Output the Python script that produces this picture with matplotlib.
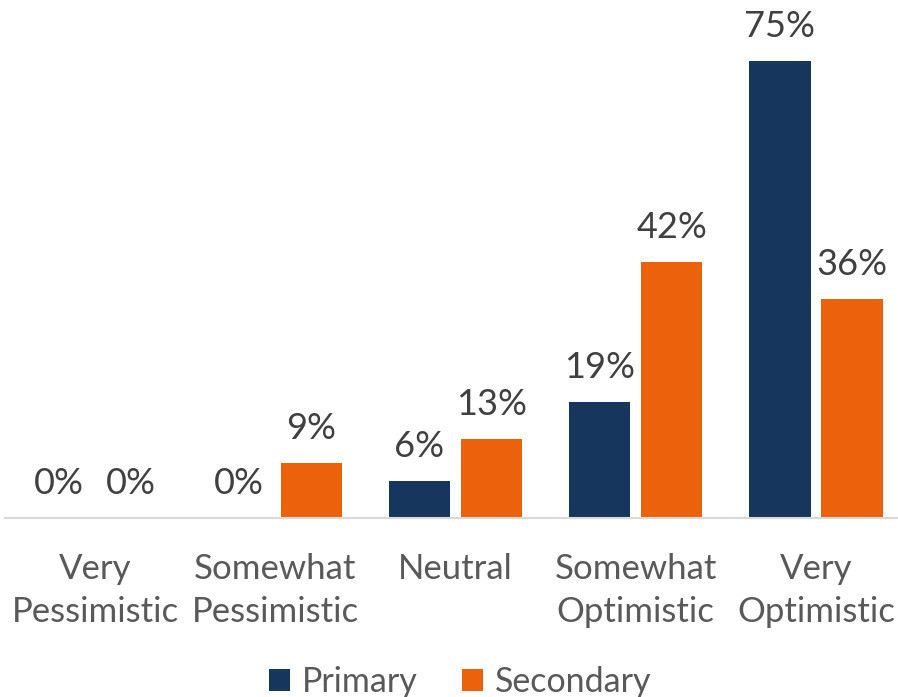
import matplotlib
matplotlib.use("Agg")
import matplotlib.pyplot as plt
import numpy as np

categories = ["Very\nPessimistic", "Somewhat\nPessimistic", "Neutral",
              "Somewhat\nOptimistic", "Very\nOptimistic"]
primary = [0, 0, 6, 19, 75]
secondary = [0, 9, 13, 42, 36]
series_names = ["Primary", "Secondary"]

navy = "#17365D"
orange = "#EC610C"
label_color = "#404040"
tick_color = "#595959"

plt.rcParams['font.family'] = ['Lato', 'DejaVu Sans']

fig = plt.figure(figsize=(8.98, 6.97), dpi=100)
ax = fig.add_axes([0.0056, 0.2568, 1.0034, 0.7432])

x = np.arange(len(categories))
w = 0.34
off = 0.2
b1 = ax.bar(x - off, primary, w, color=navy, label=series_names[0])
b2 = ax.bar(x + off, secondary, w, color=orange, label=series_names[1])

# data labels above each bar
for bars, vals in ((b1, primary), (b2, secondary)):
    for bar, v in zip(bars, vals):
        ax.annotate(f"{v}%", (bar.get_x() + bar.get_width() / 2, v),
                    xytext=(0, 13), textcoords="offset points",
                    ha="center", va="bottom", fontsize=26, color=label_color)

ax.set_xlim(-0.5, 4.5)
ax.set_ylim(0, 85)
ax.set_yticks([])
ax.set_xticks(x)
ax.set_xticklabels(categories, fontsize=25, color=tick_color, linespacing=1.42)
ax.tick_params(axis="x", length=0, pad=25)
for s in ("top", "right", "left"):
    ax.spines[s].set_visible(False)
ax.spines["bottom"].set_color("#D9D9D9")
ax.spines["bottom"].set_linewidth(1.5)

leg = fig.legend(handles=[b1, b2], labels=series_names, loc="center",
                 bbox_to_anchor=(0.512, 0.022), ncol=2, frameon=False,
                 fontsize=24.5, handlelength=0.62, handleheight=0.62,
                 handletextpad=0.35, columnspacing=1.3)
for t in leg.get_texts():
    t.set_color(tick_color)

fig.savefig("out.png", dpi=100)
